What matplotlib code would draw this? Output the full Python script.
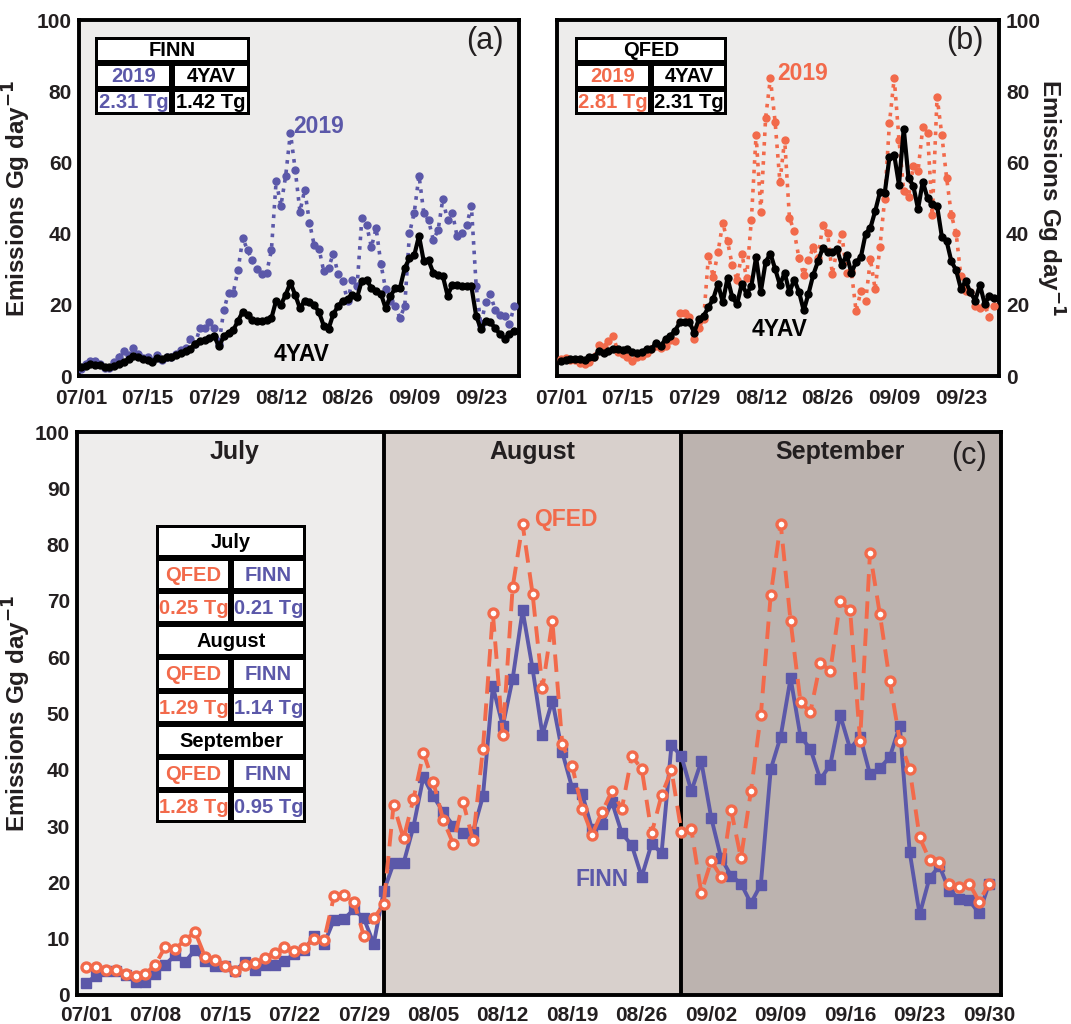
import numpy as np
import pandas as pd
import matplotlib
matplotlib.use("Agg")
import matplotlib.pyplot as plt
from matplotlib.patches import Rectangle

plt.rcParams['font.family'] = ['Liberation Sans', 'DejaVu Sans']
plt.rcParams['font.weight'] = 'bold'

dates = pd.date_range('2019-07-01', '2019-09-30')
days = np.arange(len(dates))

finn_2019 = [2.1, 3.4, 4.2, 4.2, 3.5, 2.3, 2.3, 3.8, 5.4, 7.1, 5.9, 8.0, 6.1, 5.1, 5.2, 4.2,
             5.9, 4.4, 5.4, 5.4, 6.1, 7.2, 8.0, 10.5, 9.1, 13.4, 13.5, 15.2, 13.6, 9.1, 18.4,
             23.4, 23.4, 29.9, 38.7, 35.3, 32.5, 30.1, 28.7, 29.0, 35.3, 54.8, 47.8, 56.2, 68.3,
             58.0, 46.2, 52.3, 43.1, 36.7, 35.7, 29.4, 30.4, 34.3, 28.7, 26.6, 21.0, 26.9, 25.2,
             44.4, 42.4, 36.2, 41.5, 31.5, 24.3, 21.2, 19.8, 16.3, 19.6, 40.1, 45.9, 56.3, 45.9,
             43.7, 38.3, 40.9, 49.7, 43.7, 45.9, 39.2, 40.3, 42.3, 47.8, 25.4, 14.3, 20.8, 22.9,
             18.5, 17.1, 16.8, 14.5, 19.8]
qfed_2019 = [4.9, 5.0, 4.4, 4.4, 3.7, 3.3, 3.8, 5.4, 8.6, 8.2, 9.8, 11.2, 6.8, 6.3, 5.2, 4.2,
             5.4, 5.6, 6.6, 7.5, 8.5, 7.9, 8.4, 10.0, 9.8, 17.6, 17.7, 16.6, 10.5, 13.6, 16.1,
             33.8, 27.8, 34.8, 43.0, 37.8, 31.1, 26.9, 34.3, 27.5, 43.7, 67.8, 46.2, 72.5, 83.6,
             71.3, 54.5, 66.4, 44.5, 40.6, 33.1, 28.5, 32.5, 36.2, 33.1, 42.4, 40.2, 28.7, 35.5,
             39.9, 29.0, 29.4, 18.2, 23.8, 21.0, 32.9, 24.3, 36.2, 49.7, 71.1, 83.7, 66.4, 52.0,
             50.3, 59.0, 57.6, 69.9, 68.3, 45.2, 78.5, 67.6, 55.7, 45.2, 40.1, 28.0, 24.0, 23.6,
             19.8, 19.1, 19.8, 16.6, 19.8]
finn_4yav = [2.4, 2.8, 3.3, 3.1, 3.1, 2.5, 2.4, 2.8, 3.5, 4.0, 4.7, 5.6, 5.2, 4.7, 4.5, 4.0,
             5.0, 4.9, 5.2, 5.4, 5.8, 6.4, 7.1, 7.7, 9.1, 9.9, 10.2, 10.8, 11.1, 8.3, 11.1,
             12.2, 12.9, 15.5, 18.1, 17.1, 15.8, 15.5, 15.5, 15.8, 16.2, 21.2, 20.0, 22.8, 26.2,
             22.8, 19.0, 21.2, 20.7, 20.0, 17.9, 14.1, 13.2, 17.4, 19.6, 21.2, 21.7, 22.8, 22.1,
             26.8, 27.0, 24.7, 24.0, 23.1, 19.0, 22.4, 24.7, 24.7, 30.3, 33.1, 33.9, 39.4, 32.2,
             32.5, 29.0, 28.4, 28.1, 22.6, 25.6, 25.6, 25.4, 25.2, 25.2, 16.9, 13.2, 15.5, 15.1,
             13.4, 11.8, 10.5, 11.8, 12.7]
qfed_4yav = [4.2, 4.4, 4.7, 4.7, 4.9, 4.5, 5.2, 5.2, 7.1, 6.4, 7.1, 7.5, 7.5, 7.3, 7.5, 6.8,
             6.4, 6.8, 7.5, 7.5, 9.4, 8.5, 10.4, 11.3, 12.7, 15.1, 15.3, 15.1, 12.2, 16.0, 16.9,
             19.3, 21.7, 25.9, 20.7, 27.5, 22.1, 20.2, 25.9, 23.1, 25.2, 33.4, 23.7, 32.0, 34.4,
             30.1, 25.6, 29.0, 23.5, 27.1, 23.7, 18.4, 23.1, 28.4, 32.2, 36.0, 34.8, 34.7, 35.6,
             31.1, 34.1, 29.0, 32.0, 33.4, 40.0, 41.6, 46.3, 51.6, 51.3, 61.4, 62.1, 53.7, 69.5,
             55.6, 53.5, 46.9, 54.6, 49.9, 48.2, 47.8, 39.1, 37.9, 32.2, 29.7, 24.5, 26.6, 23.5,
             21.2, 25.6, 20.2, 22.6, 21.8]

totals_finn = ['2019', '4YAV', '2.31 Tg', '1.42 Tg']
totals_qfed = ['2019', '4YAV', '2.81 Tg', '2.31 Tg']
months = ['July', 'August', 'September']
month_qfed = ['0.25 Tg', '1.29 Tg', '1.28 Tg']
month_finn = ['0.21 Tg', '1.14 Tg', '0.95 Tg']

purple = '#5b58a9'
orange = '#f26a4b'
txt = '#231f20'

W, H = 1071, 1024
fig = plt.figure(figsize=(W / 100, H / 100), dpi=100)


def px_axes(x0, y0, x1, y1):
    return fig.add_axes([x0 / W, 1 - y1 / H, (x1 - x0) / W, (y1 - y0) / H])


def draw_table(x0, x1, y0, row_h, split, rows):
    n = len(rows)
    fig.add_artist(Rectangle((x0 / W, 1 - (y0 + n * row_h) / H), (x1 - x0) / W, n * row_h / H,
                             transform=fig.transFigure, facecolor='black', edgecolor='none'))
    g = 3
    for i, row in enumerate(rows):
        top = y0 + i * row_h
        if len(row) == 1:
            cells = [(x0, x1, row[0])]
        else:
            cells = [(x0, split, row[0]), (split, x1, row[1])]
        for cx0, cx1, (s, c) in cells:
            fig.add_artist(Rectangle(((cx0 + g) / W, 1 - (top + row_h - g) / H),
                                     (cx1 - cx0 - 2 * g) / W, (row_h - 2 * g) / H,
                                     transform=fig.transFigure, facecolor='white',
                                     edgecolor='none'))
            fig.text((cx0 + cx1) / 2 / W, 1 - (top + row_h / 2 + 1) / H, s, color=c,
                     fontsize=14.5, fontweight='bold', ha='center', va='center')


def style(ax, xlim, xpad):
    ax.set_ylim(0, 100)
    ax.set_xlim(*xlim)
    for sp in ax.spines.values():
        sp.set_linewidth(2.8)
        sp.set_color('black')
    ax.tick_params(length=0, labelsize=15, labelcolor=txt, pad=5)
    ax.tick_params(axis='x', pad=xpad)
    for lab in ax.get_xticklabels() + ax.get_yticklabels():
        lab.set_fontweight('bold')


ticks14 = days[::14]
ticklab14 = [d.strftime('%m/%d') for d in dates[::14]]

# panel (a)
ax_a = px_axes(79, 20, 519, 376)
ax_a.set_facecolor('#edeceb')
ax_a.plot(days, finn_2019, ':', color=purple, lw=2.6, marker='o', ms=5, zorder=3)
ax_a.plot(days, finn_4yav, '-', color='black', lw=3, marker='o', ms=5, zorder=4)
ax_a.set_xticks(ticks14)
ax_a.set_xticklabels(ticklab14)
ax_a.set_yticks(np.arange(0, 101, 20))
style(ax_a, (-0.4, 92), 9)
ax_a.set_ylabel('Emissions Gg day$^{-1}$', fontsize=17.5, fontweight='bold', color=txt)
ax_a.yaxis.set_label_coords(-0.105, 0.5)
ax_a.text(0.965, 0.94, '(a)', transform=ax_a.transAxes, fontsize=22, fontweight='normal',
          ha='right', va='center', color=txt)
ax_a.text(44.5, 70, '2019', color=purple, fontsize=16.5, fontweight='bold', ha='left', va='center')
ax_a.text(40.5, 6, '4YAV', color='black', fontsize=16.5, fontweight='bold', ha='left', va='center')

# panel (b)
ax_b = px_axes(557, 20, 999, 376)
ax_b.set_facecolor('#edeceb')
ax_b.plot(days, qfed_2019, ':', color=orange, lw=2.6, marker='o', ms=5, zorder=3)
ax_b.plot(days, qfed_4yav, '-', color='black', lw=3, marker='o', ms=5, zorder=4)
ax_b.set_xticks(ticks14)
ax_b.set_xticklabels(ticklab14)
ax_b.set_yticks(np.arange(0, 101, 20))
ax_b.yaxis.tick_right()
ax_b.yaxis.set_label_position('right')
style(ax_b, (-0.8, 92), 9)
ax_b.set_ylabel('Emissions Gg day$^{-1}$', fontsize=17.5, fontweight='bold', color=txt,
                rotation=270, va='center')
ax_b.yaxis.set_label_coords(1.115, 0.5)
ax_b.text(0.965, 0.94, '(b)', transform=ax_b.transAxes, fontsize=22, fontweight='normal',
          ha='right', va='center', color=txt)
ax_b.text(45.5, 85, '2019', color=orange, fontsize=16.5, fontweight='bold', ha='left', va='center')
ax_b.text(40, 13, '4YAV', color='black', fontsize=16.5, fontweight='bold', ha='left', va='center')

# panel (c)
ax_c = px_axes(77, 432, 1001, 995)
xl = (-0.9, 92.2)
ax_c.axvspan(xl[0], 30, color='#eeedec', lw=0, zorder=0)
ax_c.axvspan(30, 60, color='#d8d0cc', lw=0, zorder=0)
ax_c.axvspan(60, xl[1], color='#bcb3af', lw=0, zorder=0)
ax_c.axvline(30, color='black', lw=2.8, zorder=1)
ax_c.axvline(60, color='black', lw=2.8, zorder=1)
ax_c.plot(days, finn_2019, '-', color=purple, lw=2.8, marker='s', ms=6.5, zorder=3)
ax_c.plot(days, qfed_2019, color=orange, lw=2.8, dashes=(4.5, 2.5), marker='o', ms=6.5,
          mfc='white', mec=orange, mew=2.4, zorder=4)
ax_c.set_xticks(days[::7])
ax_c.set_xticklabels([d.strftime('%m/%d') for d in dates[::7]])
ax_c.set_yticks(np.arange(0, 101, 10))
style(ax_c, xl, 8)
ax_c.set_ylabel('Emissions Gg day$^{-1}$', fontsize=17.5, fontweight='bold', color=txt)
ax_c.yaxis.set_label_coords(-0.048, 0.5)
for xm, m in zip([15, 45, 76], months):
    ax_c.text(xm, 96.5, m, fontsize=18, fontweight='bold', ha='center', va='center', color=txt)
ax_c.text(0.985, 0.957, '(c)', transform=ax_c.transAxes, fontsize=22, fontweight='normal',
          ha='right', va='center', color=txt)
ax_c.text(45.2, 84.5, 'QFED', color=orange, fontsize=16.5, fontweight='bold', ha='left', va='center')
ax_c.text(49.3, 20.5, 'FINN', color=purple, fontsize=16.5, fontweight='bold', ha='left', va='center')

# summary tables
draw_table(95, 250, 37, 26, 172, [[('FINN', 'black')],
                                  [(totals_finn[0], purple), (totals_finn[1], 'black')],
                                  [(totals_finn[2], purple), (totals_finn[3], 'black')]])
draw_table(575, 727, 37, 26, 651, [[('QFED', 'black')],
                                   [(totals_qfed[0], orange), (totals_qfed[1], 'black')],
                                   [(totals_qfed[2], orange), (totals_qfed[3], 'black')]])
rows_c = []
for m, q, f in zip(months, month_qfed, month_finn):
    rows_c.append([(m, 'black')])
    rows_c.append([('QFED', orange), ('FINN', purple)])
    rows_c.append([(q, orange), (f, purple)])
draw_table(156, 306, 525, 33.1, 231, rows_c)

fig.savefig('out.png', dpi=100)
